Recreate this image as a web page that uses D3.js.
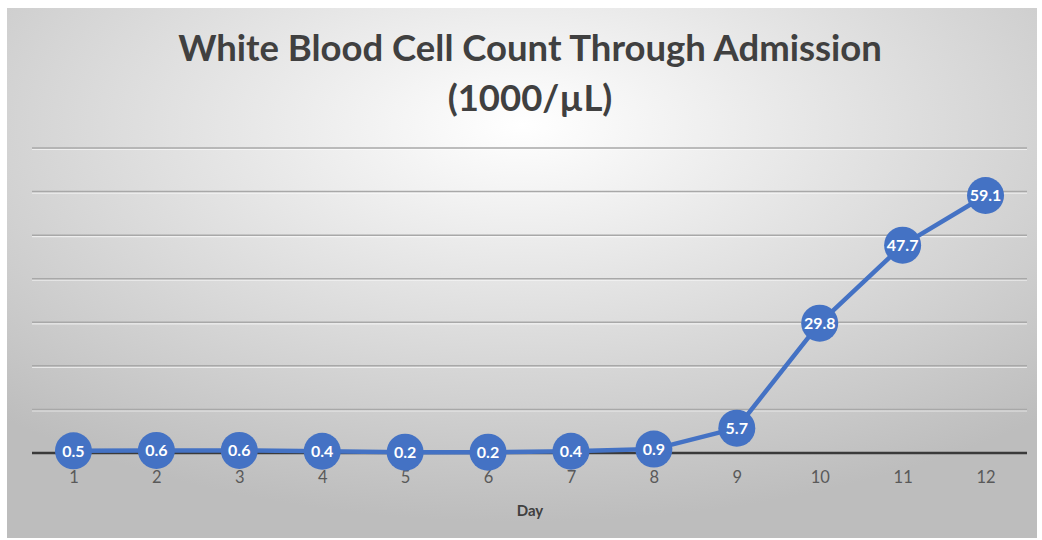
<!DOCTYPE html>
<html><head><meta charset="utf-8">
<script src="https://cdn.jsdelivr.net/npm/d3@7"></script>
<style>body{margin:0;background:#fff;} svg{display:block;}</style>
</head><body>
<svg id="c" width="1042" height="540"></svg>
<script>
const days = [1,2,3,4,5,6,7,8,9,10,11,12];
const wbc = [0.5,0.6,0.6,0.4,0.2,0.2,0.4,0.9,5.7,29.8,47.7,59.1];
const yTicks = [0,10,20,30,40,50,60,70];
const titleLines = ["White Blood Cell Count Through Admission","(1000/µL)"];
const xTitle = "Day";

const FONT = "Lato,'Open Sans',sans-serif";
const svg = d3.select("#c");
const defs = svg.append("defs");
const g = defs.append("radialGradient").attr("id","bg").attr("cx","50%").attr("cy","22%").attr("r","75%")
  .attr("fx","50%").attr("fy","22%");
g.append("stop").attr("offset","0%").attr("stop-color","#ffffff");
g.append("stop").attr("offset","100%").attr("stop-color","#bdbdbd");

svg.append("rect").attr("x",7).attr("y",8).attr("width",1030).attr("height",530).attr("fill","url(#bg)");

const x = d3.scalePoint().domain(days).range([32,1027]).padding(0.5);
const y = d3.scaleLinear().domain([0,70]).range([453,148]);

// gridlines
const grid = svg.append("g");
yTicks.filter(t=>t>0).forEach(t=>{
  grid.append("line").attr("x1",32).attr("x2",1027).attr("y1",y(t)+1.5).attr("y2",y(t)+1.5)
    .attr("stroke","#ffffff").attr("stroke-opacity",0.6).attr("stroke-width",1.2);
  grid.append("line").attr("x1",32).attr("x2",1027).attr("y1",y(t)).attr("y2",y(t))
    .attr("stroke","#a8a8a8").attr("stroke-width",1.5);
});

// x axis
const xAxis = d3.axisBottom(x).tickSize(0).tickPadding(18);
const ax = svg.append("g").attr("transform",`translate(0,${y(0)})`).call(xAxis);
ax.select(".domain").attr("d","M32,0H1027").attr("stroke","#3a3a3a").attr("stroke-width",2.5);
ax.selectAll("text").attr("font-family",FONT).attr("font-size",16.5).attr("fill","#595959");

// line
const line = d3.line().x((d,i)=>x(days[i])).y(d=>y(d));
svg.append("path").datum(wbc).attr("d",line).attr("fill","none").attr("stroke","#4472C4").attr("stroke-width",4.5).attr("stroke-linejoin","round");

// markers
svg.selectAll("circle.m").data(wbc).enter().append("circle")
  .attr("cx",(d,i)=>x(days[i])).attr("cy",d=>y(d)).attr("r",18.5).attr("fill","#4472C4");
svg.selectAll("text.lbl").data(wbc).enter().append("text")
  .attr("x",(d,i)=>x(days[i])).attr("y",d=>y(d)).attr("dy","0.36em")
  .attr("text-anchor","middle").attr("font-family",FONT).attr("font-weight","bold")
  .attr("font-size",16).attr("fill","#ffffff").text(d=>d.toFixed(1));

// title
const tt = svg.append("text").attr("text-anchor","middle").attr("font-family",FONT)
  .attr("font-weight","bold").attr("fill","#404040").attr("font-size",30);
tt.append("tspan").attr("x",530).attr("y",61).text(titleLines[0]);
tt.append("tspan").attr("x",530).attr("y",111).text(titleLines[1]);
const w = tt.select("tspan").node().getComputedTextLength();
tt.attr("font-size",30*704/w);

svg.append("text").attr("x",530).attr("y",516).attr("text-anchor","middle")
  .attr("font-family",FONT).attr("font-weight","bold").attr("font-size",15)
  .attr("fill","#404040").text(xTitle);
</script>
</body></html>
